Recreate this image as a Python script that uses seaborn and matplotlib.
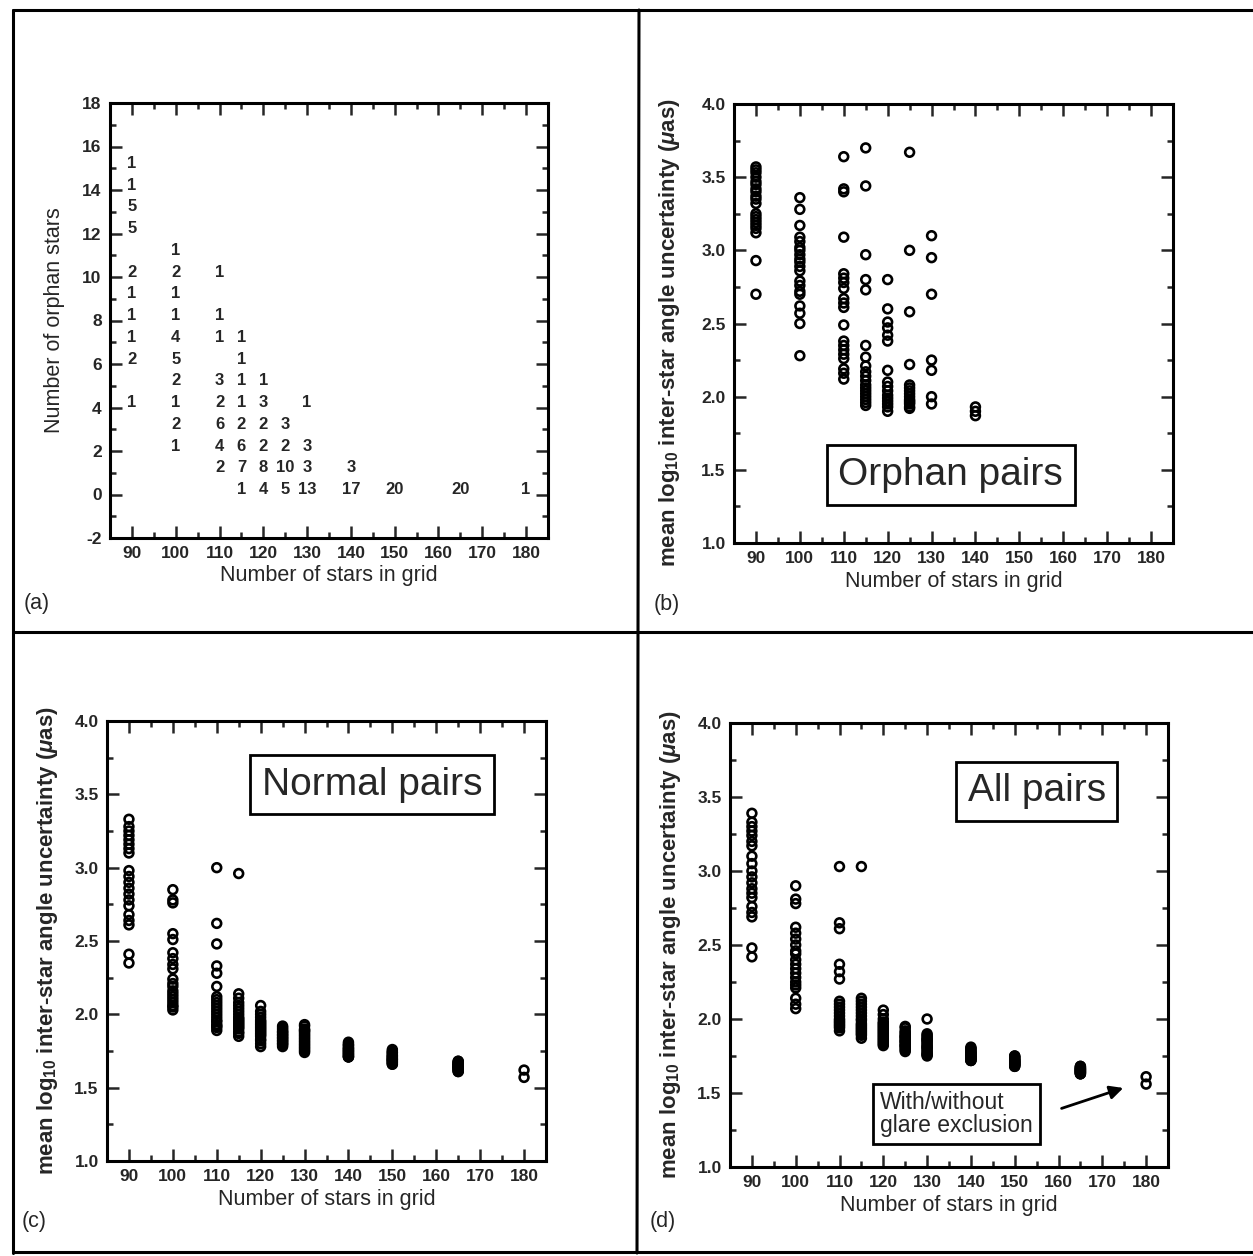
import matplotlib
matplotlib.use('Agg')
import matplotlib.pyplot as plt
from matplotlib.lines import Line2D
from matplotlib.ticker import MultipleLocator
import pandas as pd
import seaborn as sns

# (a) number of trials (count) with a given number of orphan stars, per grid size
orphan_counts = {
    90: {15: 1, 14: 1, 13: 5, 12: 5, 10: 2, 9: 1, 8: 1, 7: 1, 6: 2, 4: 1},
    100: {11: 1, 10: 2, 9: 1, 8: 1, 7: 4, 6: 5, 5: 2, 4: 1, 3: 2, 2: 1},
    110: {10: 1, 8: 1, 7: 1, 5: 3, 4: 2, 3: 6, 2: 4, 1: 2},
    115: {7: 1, 6: 1, 5: 1, 4: 1, 3: 2, 2: 6, 1: 7, 0: 1},
    120: {5: 1, 4: 3, 3: 2, 2: 2, 1: 8, 0: 4},
    125: {3: 3, 2: 2, 1: 10, 0: 5},
    130: {4: 1, 2: 3, 1: 3, 0: 13},
    140: {1: 3, 0: 17},
    150: {0: 20},
    165: {0: 20},
    180: {0: 1},
}

# (b) orphan pairs: mean log10 uncertainty per trial
orphan_pairs = {
    90: [3.57, 3.55, 3.53, 3.50, 3.47, 3.45, 3.42, 3.40, 3.37, 3.35, 3.32, 3.25,
         3.23, 3.21, 3.19, 3.17, 3.15, 3.12, 2.93, 2.70],
    100: [3.36, 3.28, 3.17, 3.09, 3.06, 3.02, 3.00, 2.97, 2.94, 2.92, 2.89, 2.86,
          2.79, 2.76, 2.72, 2.70, 2.62, 2.57, 2.50, 2.28],
    110: [3.64, 3.42, 3.40, 3.09, 2.84, 2.81, 2.78, 2.74, 2.67, 2.64, 2.61, 2.49,
          2.38, 2.35, 2.32, 2.29, 2.26, 2.19, 2.16, 2.12],
    115: [3.70, 3.44, 2.97, 2.80, 2.73, 2.35, 2.27, 2.21, 2.17, 2.14, 2.11, 2.08,
          2.06, 2.04, 2.02, 2.00, 1.98, 1.96, 1.94],
    120: [2.80, 2.60, 2.51, 2.47, 2.42, 2.38, 2.18, 2.10, 2.07, 2.04, 2.01, 1.99,
          1.97, 1.95, 1.93, 1.90],
    125: [3.67, 3.00, 2.58, 2.22, 2.08, 2.06, 2.04, 2.02, 2.00, 1.98, 1.97, 1.96,
          1.95, 1.93, 1.92],
    130: [3.10, 2.95, 2.70, 2.25, 2.18, 2.00, 1.95],
    140: [1.93, 1.90, 1.87],
}

# (c) normal pairs
normal_pairs = {
    90: [3.33, 3.28, 3.25, 3.22, 3.19, 3.16, 3.13, 3.10, 2.98, 2.94, 2.90, 2.86,
         2.82, 2.78, 2.74, 2.68, 2.64, 2.61, 2.41, 2.35],
    100: [2.85, 2.78, 2.76, 2.55, 2.51, 2.42, 2.38, 2.34, 2.31, 2.24, 2.21, 2.19,
          2.16, 2.14, 2.12, 2.10, 2.08, 2.06, 2.05, 2.03],
    110: [3.00, 2.62, 2.48, 2.33, 2.28, 2.19, 2.12, 2.10, 2.08, 2.06, 2.04, 2.02,
          2.00, 1.98, 1.96, 1.95, 1.93, 1.92, 1.91, 1.89],
    115: [2.96, 2.14, 2.11, 2.08, 2.06, 2.04, 2.02, 2.00, 1.98, 1.97, 1.96, 1.95,
          1.94, 1.93, 1.92, 1.91, 1.90, 1.88, 1.87, 1.85],
    120: [2.06, 2.02, 2.00, 1.98, 1.96, 1.95, 1.94, 1.93, 1.92, 1.91, 1.90, 1.89,
          1.88, 1.87, 1.86, 1.85, 1.83, 1.82, 1.80, 1.78],
    125: [1.92, 1.91, 1.90, 1.89, 1.88, 1.88, 1.87, 1.86, 1.86, 1.85, 1.84, 1.84,
          1.83, 1.82, 1.82, 1.81, 1.80, 1.80, 1.79, 1.78],
    130: [1.93, 1.92, 1.90, 1.89, 1.89, 1.88, 1.87, 1.86, 1.85, 1.84, 1.83, 1.82,
          1.81, 1.80, 1.79, 1.78, 1.77, 1.76, 1.75, 1.74],
    140: [1.81, 1.80, 1.79, 1.79, 1.78, 1.77, 1.77, 1.76, 1.76, 1.75, 1.75, 1.74,
          1.74, 1.73, 1.73, 1.72, 1.72, 1.71, 1.71, 1.71],
    150: [1.76, 1.75, 1.74, 1.74, 1.73, 1.72, 1.72, 1.71, 1.71, 1.70, 1.70, 1.69,
          1.69, 1.69, 1.68, 1.68, 1.67, 1.67, 1.66, 1.66],
    165: [1.68, 1.68, 1.67, 1.67, 1.66, 1.66, 1.66, 1.65, 1.65, 1.65, 1.64, 1.64,
          1.64, 1.63, 1.63, 1.63, 1.62, 1.62, 1.61, 1.61],
    180: [1.62, 1.57],
}

# (d) all pairs
all_pairs = {
    90: [3.39, 3.33, 3.30, 3.27, 3.24, 3.20, 3.17, 3.10, 3.05, 3.00, 2.96, 2.92,
         2.88, 2.85, 2.82, 2.76, 2.72, 2.69, 2.48, 2.42],
    100: [2.90, 2.81, 2.78, 2.62, 2.58, 2.54, 2.50, 2.46, 2.44, 2.40, 2.37, 2.34,
          2.31, 2.28, 2.25, 2.23, 2.21, 2.14, 2.10, 2.07],
    110: [3.03, 2.65, 2.61, 2.37, 2.32, 2.27, 2.12, 2.10, 2.08, 2.06, 2.04, 2.02,
          2.00, 1.99, 1.98, 1.97, 1.96, 1.95, 1.94, 1.92],
    115: [3.03, 2.14, 2.12, 2.10, 2.08, 2.06, 2.04, 2.02, 2.00, 1.99, 1.97, 1.96,
          1.95, 1.94, 1.93, 1.92, 1.91, 1.90, 1.89, 1.87],
    120: [2.06, 2.03, 2.00, 1.98, 1.97, 1.96, 1.95, 1.94, 1.93, 1.92, 1.91, 1.90,
          1.89, 1.88, 1.87, 1.86, 1.85, 1.84, 1.83, 1.82],
    125: [1.95, 1.94, 1.92, 1.91, 1.90, 1.89, 1.88, 1.88, 1.87, 1.86, 1.85, 1.85,
          1.84, 1.83, 1.82, 1.82, 1.81, 1.80, 1.79, 1.78],
    130: [2.00, 1.90, 1.89, 1.88, 1.87, 1.86, 1.86, 1.85, 1.84, 1.83, 1.82, 1.81,
          1.81, 1.80, 1.79, 1.78, 1.77, 1.76, 1.76, 1.75],
    140: [1.81, 1.80, 1.80, 1.79, 1.78, 1.78, 1.77, 1.77, 1.76, 1.76, 1.75, 1.75,
          1.74, 1.74, 1.74, 1.73, 1.73, 1.72, 1.72, 1.72],
    150: [1.75, 1.75, 1.74, 1.74, 1.73, 1.73, 1.72, 1.72, 1.72, 1.71, 1.71, 1.71,
          1.70, 1.70, 1.70, 1.69, 1.69, 1.69, 1.68, 1.68],
    165: [1.68, 1.68, 1.67, 1.67, 1.67, 1.66, 1.66, 1.66, 1.66, 1.65, 1.65, 1.65,
          1.65, 1.64, 1.64, 1.64, 1.64, 1.63, 1.63, 1.63],
    180: [1.61, 1.56],
}

xlab = 'Number of stars in grid'
ylab = r'mean log$_{10}$ inter-star angle uncertainty ($\mu$as)'

sns.set_style('ticks')
plt.rcParams['font.family'] = ['Liberation Sans', 'DejaVu Sans']
plt.rcParams['axes.unicode_minus'] = False
plt.rcParams['mathtext.fontset'] = 'custom'
plt.rcParams['mathtext.rm'] = 'Liberation Sans:bold'
plt.rcParams['mathtext.it'] = 'Liberation Sans:italic:bold'
plt.rcParams['mathtext.bf'] = 'Liberation Sans:bold'

W, H = 1253, 1256
fig = plt.figure(figsize=(W / 100, H / 100), dpi=100)


def add_ax(left, top, right, bottom):
    return fig.add_axes([left / W, 1 - bottom / H, (right - left) / W, (bottom - top) / H])


def style_ax(ax, ymin, ymax, ymaj, ymin_step):
    ax.set_xlim(85, 185)
    ax.set_ylim(ymin, ymax)
    ax.xaxis.set_major_locator(MultipleLocator(10))
    ax.xaxis.set_minor_locator(MultipleLocator(5))
    ax.yaxis.set_major_locator(MultipleLocator(ymaj))
    ax.yaxis.set_minor_locator(MultipleLocator(ymin_step))
    ax.tick_params(which='both', direction='in', top=True, right=True, width=1.8,
                   labelsize=12.5, pad=6)
    ax.tick_params(which='major', length=8.5)
    ax.tick_params(which='minor', length=4)
    for lab in ax.get_xticklabels() + ax.get_yticklabels():
        lab.set_fontweight('bold')
    for sp in ax.spines.values():
        sp.set_linewidth(2.2)
        sp.set_color('black')
    ax.set_xlabel(xlab, fontsize=15.5, labelpad=3)


# Ramecek a delici cary
frame = [((13, 10), (1253, 10)), ((13, 10), (13, 1253)), ((13, 632), (1253, 632)),
         ((639, 10), (637, 1253)), ((13, 1252), (1253, 1252))]
for (x0, y0), (x1, y1) in frame:
    fig.add_artist(Line2D([x0 / W, x1 / W], [1 - y0 / H, 1 - y1 / H],
                          transform=fig.transFigure, color='black', lw=2.2))

# (a) pocty sirotku
ax_a = add_ax(110, 103, 548, 538)
style_ax(ax_a, -2, 18, 2, 1)
for grid, counts in orphan_counts.items():
    for n_orph, cnt in counts.items():
        ax_a.text(grid, n_orph + 0.22, str(cnt), ha='center', va='center',
                  fontsize=12, fontweight='bold')
ax_a.set_ylabel('Number of orphan stars', fontsize=15.5)
ax_a.yaxis.set_label_coords(-0.103, 0.5)


def scatter_panel(ax, data):
    df = pd.DataFrame([(g, v) for g, vals in data.items() for v in vals],
                      columns=['grid', 'value'])
    sns.scatterplot(data=df, x='grid', y='value', ax=ax, marker='o', s=40,
                    facecolor='none', edgecolor='black', linewidth=1.9)
    style_ax(ax, 1.0, 4.0, 0.5, 0.25)
    ax.set_xlabel(xlab, fontsize=15.5, labelpad=3)
    ax.set_ylabel(ylab, fontsize=16, fontweight='bold')


box = dict(boxstyle='square,pad=0.3', fc='white', ec='black', lw=2)

ax_b = add_ax(734, 104, 1173, 543)
scatter_panel(ax_b, orphan_pairs)
ax_b.yaxis.set_label_coords(-0.118, 0.48)
ax_b.text(0.494, 0.155, 'Orphan pairs', transform=ax_b.transAxes, ha='center',
          va='center', fontsize=28, bbox=box)

ax_c = add_ax(107, 721, 546, 1161)
scatter_panel(ax_c, normal_pairs)
ax_c.yaxis.set_label_coords(-0.107, 0.5)
ax_c.text(0.604, 0.855, 'Normal pairs', transform=ax_c.transAxes, ha='center',
          va='center', fontsize=28, bbox=box)

ax_d = add_ax(730, 723, 1168, 1167)
scatter_panel(ax_d, all_pairs)
ax_d.yaxis.set_label_coords(-0.108, 0.5)
ax_d.text(0.70, 0.846, 'All pairs', transform=ax_d.transAxes, ha='center',
          va='center', fontsize=28, bbox=box)
ax_d.text(119.3, 1.36, 'With/without\nglare exclusion', ha='left', va='center',
          fontsize=16.5, linespacing=1.0,
          bbox=dict(boxstyle='square,pad=0.3', fc='white', ec='black', lw=2))
ax_d.annotate('', xy=(175.4, 1.54), xytext=(160.1, 1.39),
              arrowprops=dict(arrowstyle='-|>', lw=2, color='black', mutation_scale=20))

# Oznaceni panelu
for lab, (px, py) in {'(a)': (24, 603), '(b)': (654, 605),
                      '(c)': (22, 1222), '(d)': (650, 1222)}.items():
    fig.text(px / W, 1 - py / H, lab, fontsize=15.5, ha='left', va='center')

fig.savefig('out.png', dpi=100)
